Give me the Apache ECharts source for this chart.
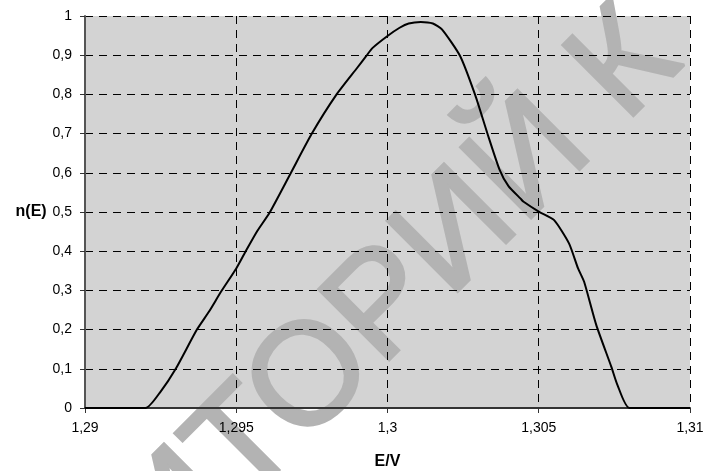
<!DOCTYPE html>
<html>
<head>
<meta charset="utf-8">
<script src="https://cdn.jsdelivr.net/npm/echarts@6/dist/echarts.min.js"></script>
<style>html,body{margin:0;padding:0;background:#fff}#c{width:703px;height:471px}</style>
</head>
<body>
<div id="c"></div>
<script>
// Energy E (V)
var energy = [1.2900, 1.2920, 1.2925, 1.2930, 1.2937, 1.2941, 1.2945, 1.2950, 1.2953, 1.2957,
              1.2961, 1.2968, 1.2975, 1.2983, 1.2990, 1.2993, 1.2995, 1.3000, 1.3004, 1.3007,
              1.3011, 1.3015, 1.3018, 1.3024, 1.3029, 1.3033, 1.3037, 1.3040, 1.3044, 1.3045,
              1.3050, 1.3055, 1.3060, 1.3063, 1.3065, 1.3069, 1.3074, 1.3076, 1.3080, 1.3100];
// n(E)
var nE = [0, 0, 0.042, 0.100, 0.200, 0.246, 0.297, 0.356, 0.398, 0.452,
          0.498, 0.599, 0.700, 0.798, 0.868, 0.898, 0.918, 0.949, 0.970, 0.981,
          0.985, 0.981, 0.966, 0.898, 0.798, 0.701, 0.609, 0.566, 0.534, 0.526,
          0.501, 0.480, 0.420, 0.356, 0.322, 0.212, 0.105, 0.059, 0, 0];
var xName = 'E/V';
var yName = 'n(E)';
var watermarkA = 'РЕПОЗИ';
var watermarkB = 'ТОРИЙ К';

var pts = energy.map(function (e, i) { return [e, nE[i]]; });
function comma(v, d) { return String(Number(v.toFixed(d))).replace('.', ','); }
var F = 'Arial, "Liberation Sans", sans-serif';
var wmStyle = { font: '145px ' + F, fill: '#b3b3b3', stroke: '#b3b3b3', lineWidth: 3, verticalAlign: 'bottom', blend: 'multiply' };

var chart = echarts.init(document.getElementById('c'), null, { renderer: 'canvas' });
chart.setOption({
  animation: false,
  backgroundColor: '#fff',
  grid: { left: 85, top: 16, right: 13, bottom: 63, show: true, backgroundColor: '#d3d3d3', borderWidth: 0,
          containLabel: false, outerBoundsMode: 'none' },
  xAxis: {
    type: 'value', min: 1.29, max: 1.31, interval: 0.005,
    name: xName, nameLocation: 'middle', nameGap: 46,
    nameTextStyle: { fontFamily: F, fontSize: 16, fontWeight: 'bold', color: '#000' },
    axisLine: { show: true, onZero: false, lineStyle: { color: '#333', width: 2 } },
    axisTick: { show: true, length: 5, lineStyle: { color: '#333' } },
    axisLabel: { margin: 13, fontFamily: F, fontSize: 14, color: '#000', formatter: function (v) { return comma(v, 3); } },
    splitLine: { show: true, lineStyle: { color: '#000', width: 1, type: [8, 6] } }
  },
  yAxis: {
    type: 'value', min: 0, max: 1, interval: 0.1,
    name: yName, nameLocation: 'middle', nameGap: 38, nameRotate: 0,
    nameTextStyle: { fontFamily: F, fontSize: 16, fontWeight: 'bold', color: '#000', align: 'right', verticalAlign: 'middle' },
    axisLine: { show: true, lineStyle: { color: '#555', width: 2 } },
    axisTick: { show: true, length: 5, lineStyle: { color: '#333' } },
    axisLabel: { margin: 13, fontFamily: F, fontSize: 14, color: '#000', formatter: function (v) { return comma(v, 1); } },
    splitLine: { show: true, lineStyle: { color: '#000', width: 1, type: [8, 6] } }
  },
  series: [{
    type: 'line', data: pts, showSymbol: false, smooth: 0.2,
    lineStyle: { color: '#000', width: 2 }, z: 5
  }],
  graphic: [{
    type: 'group', x: 266, y: 529, rotation: Math.PI / 4, z: 100, silent: true,
    children: [
      { type: 'text', x: 0, y: 0, style: Object.assign({ text: watermarkA, align: 'right' }, wmStyle) },
      { type: 'text', x: 0, y: 0, style: Object.assign({ text: watermarkB, align: 'left' }, wmStyle) }
    ]
  }]
});
</script>
</body>
</html>
